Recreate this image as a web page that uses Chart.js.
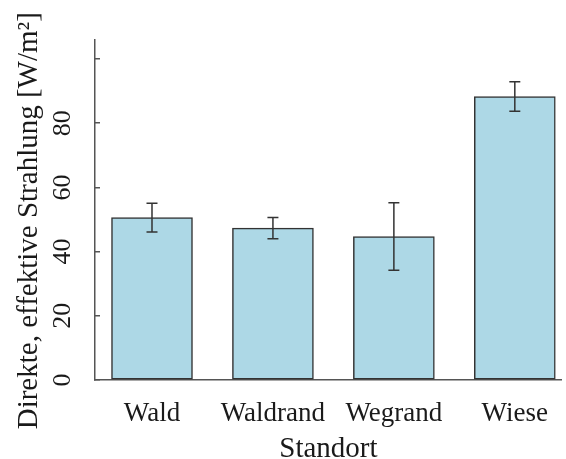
<!DOCTYPE html>
<html>
<head>
<meta charset="utf-8">
<script src="https://cdn.jsdelivr.net/npm/chart.js@4"></script>
<style>
  html, body { margin: 0; padding: 0; background: #fff; overflow: hidden; }
  #wrap { width: 566px; height: 459px; }
</style>
</head>
<body>
<div id="wrap"><canvas id="c" width="566" height="459"></canvas></div>
<script>
// Direct effective radiation per site, mean with error bars
const categories = ['Wald', 'Waldrand', 'Wegrand', 'Wiese'];
const meanValues = [50.6, 47.3, 44.7, 88.3];
const errorValues = [4.5, 3.3, 10.5, 4.6];
const yTickLabels = ['0', '20', '40', '60', '80'];
const xTitle = 'Standort';
const yTitle = 'Direkte, effektive Strahlung [W/m\u00B2]';

const serif = '"Liberation Serif", "Times New Roman", serif';
const ink = '#1a1a1a';

const barPoints = meanValues.map((v, i) => ({ x: i, y: v }));

const errorBars = {
  id: 'errorBars',
  afterDatasetsDraw(chart) {
    const { ctx, scales: { x, y } } = chart;
    ctx.save();
    ctx.strokeStyle = '#333';
    ctx.lineWidth = 1.5;
    meanValues.forEach((m, i) => {
      const px = x.getPixelForValue(i);
      const top = y.getPixelForValue(m + errorValues[i]);
      const bot = y.getPixelForValue(m - errorValues[i]);
      const cap = 5.5;
      ctx.beginPath();
      ctx.moveTo(px, top); ctx.lineTo(px, bot);
      ctx.moveTo(px - cap, top); ctx.lineTo(px + cap, top);
      ctx.moveTo(px - cap, bot); ctx.lineTo(px + cap, bot);
      ctx.stroke();
    });
    ctx.restore();
  }
};

new Chart(document.getElementById('c'), {
  type: 'bar',
  data: {
    datasets: [{
      data: barPoints,
      backgroundColor: '#ADD8E6',
      borderColor: '#333',
      borderWidth: 1.5,
      borderSkipped: false,
      barThickness: 81
    }]
  },
  options: {
    responsive: false,
    animation: false,
    devicePixelRatio: 1,
    layout: { padding: { top: 30, right: 0, bottom: 0, left: 0 } },
    plugins: { legend: { display: false }, tooltip: { enabled: false } },
    scales: {
      x: {
        type: 'linear',
        offset: false,
        min: -0.4713,
        max: 3.389,
        grid: { display: false, offset: false, drawTicks: false },
        border: { display: true, color: '#555', width: 1.5 },
        ticks: {
          stepSize: 1,
          includeBounds: false,
          maxRotation: 0,
          autoSkip: false,
          padding: 18,
          color: ink,
          font: { family: serif, size: 27 },
          callback: (v) => categories[v] ?? ''
        },
        title: {
          display: true,
          text: xTitle,
          color: ink,
          font: { family: serif, size: 29 },
          padding: { top: 0, bottom: -8 }
        },
        afterFit: (s) => { s.height = 79; }
      },
      y: {
        min: 0,
        max: 106.06,
        grid: { display: true, drawOnChartArea: false, drawTicks: true, tickLength: -5, color: '#555', lineWidth: 1.5 },
        border: { display: true, color: '#555', width: 1.5 },
        ticks: {
          stepSize: 20,
          includeBounds: false,
          minRotation: 90,
          maxRotation: 90,
          crossAlign: 'center',
          padding: 24,
          color: ink,
          font: { family: serif, size: 26 },
          callback: (v) => (yTickLabels.includes(String(v)) ? String(v) : '')
        },
        title: {
          display: true,
          text: yTitle + '   ',
          color: ink,
          font: { family: serif, size: 29 },
          padding: { top: 12, bottom: 0 }
        },
        afterFit: (s) => { s.width = 95; }
      }
    }
  },
  plugins: [errorBars]
});
</script>
</body>
</html>
